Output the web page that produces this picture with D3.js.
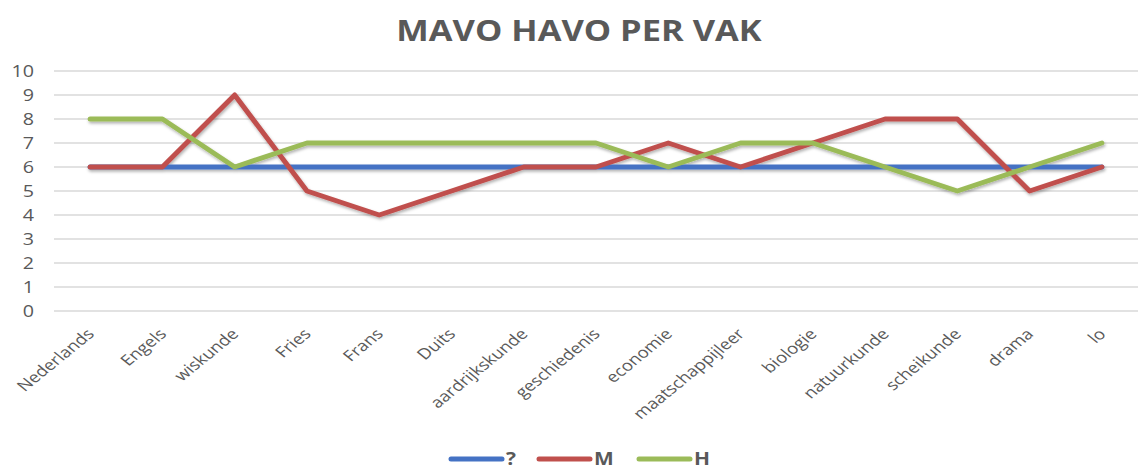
<!DOCTYPE html>
<html>
<head>
<meta charset="utf-8">
<script src="https://cdn.jsdelivr.net/npm/d3@7"></script>
<style>
  body { margin: 0; background: #fff; }
  text { font-family: "Open Sans", sans-serif; fill: #595959; }
</style>
</head>
<body>
<div id="chart"></div>
<script>
// Data
const vakken = ["Nederlands", "Engels", "wiskunde", "Fries", "Frans", "Duits",
  "aardrijkskunde", "geschiedenis", "economie", "maatschappijleer", "biologie",
  "natuurkunde", "scheikunde", "drama", "lo"];
const vraag = [6, 6, 6, 6, 6, 6, 6, 6, 6, 6, 6, 6, 6, 6, 6];
const mavo = [6, 6, 9, 5, 4, 5, 6, 6, 7, 6, 7, 8, 8, 5, 6];
const havo = [8, 8, 6, 7, 7, 7, 7, 7, 6, 7, 7, 6, 5, 6, 7];
const yTicks = [0, 1, 2, 3, 4, 5, 6, 7, 8, 9, 10];
const seriesNames = ["?", "M", "H"];
const seriesColors = ["#4472C4", "#C0504D", "#9BBB59"];

const series = [vraag, mavo, havo].map((values, i) => ({
  name: seriesNames[i],
  color: seriesColors[i],
  values: values,
}));

// Dimensions
const dimensions = { width: 1138, height: 471, left: 54, right: 0, top: 71, plotBottom: 311 };
// the original picture is stretched sideways, so text gets the same stretch
const stretch = 1.23;

const svg = d3.select("#chart")
  .append("svg")
  .attr("width", dimensions.width)
  .attr("height", dimensions.height);

// shadow under the lines
const defs = svg.append("defs");
const shadow = defs.append("filter").attr("id", "shadow")
  .attr("x", "-5%").attr("y", "-20%").attr("width", "110%").attr("height", "140%");
shadow.append("feDropShadow")
  .attr("dx", 1).attr("dy", 2).attr("stdDeviation", 1.5)
  .attr("flood-color", "#000").attr("flood-opacity", 0.3);

// Scales
const xScale = d3.scaleBand()
  .domain(vakken)
  .range([dimensions.left, dimensions.width - dimensions.right])
  .padding(0);

const yScale = d3.scaleLinear()
  .domain([0, 10])
  .range([dimensions.plotBottom, dimensions.top]);

const xPos = (d) => xScale(d) + xScale.bandwidth() / 2;

// Title
svg.append("text")
  .attr("transform", `translate(579,41) scale(${stretch},1)`)
  .attr("text-anchor", "middle")
  .style("font-size", "28px")
  .style("font-weight", "bold")
  .text("MAVO HAVO PER VAK");

// Gridlines
svg.append("g")
  .selectAll("line")
  .data(yTicks)
  .join("line")
  .attr("x1", dimensions.left)
  .attr("x2", dimensions.width)
  .attr("y1", (d) => yScale(d))
  .attr("y2", (d) => yScale(d))
  .attr("stroke", "#d9d9d9")
  .attr("stroke-width", 1.5);

// y tick labels
svg.append("g")
  .selectAll("text")
  .data(yTicks)
  .join("text")
  .attr("transform", (d) => `translate(34,${yScale(d) + 5.5}) scale(${stretch},1)`)
  .attr("text-anchor", "end")
  .style("font-size", "16px")
  .text((d) => d);

// x labels
svg.append("g")
  .selectAll("text")
  .data(vakken)
  .join("text")
  .attr("transform", (d) =>
    `translate(${xPos(d) + 5},${dimensions.plotBottom + 24}) scale(${stretch},1) rotate(-45)`)
  .attr("text-anchor", "end")
  .style("font-size", "15px")
  .text((d) => d);

// Lines
const line = d3.line()
  .x((d, i) => xPos(vakken[i]))
  .y((d) => yScale(d));

svg.append("g")
  .attr("filter", "url(#shadow)")
  .selectAll("path")
  .data(series)
  .join("path")
  .attr("d", (d) => line(d.values))
  .attr("fill", "none")
  .attr("stroke", (d) => d.color)
  .attr("stroke-width", 5)
  .attr("stroke-linejoin", "round")
  .attr("stroke-linecap", "round");

// Legend
const legendX = [451, 539, 639];
const legend = svg.append("g").attr("transform", "translate(0,459)");
const items = legend.selectAll("g")
  .data(series)
  .join("g")
  .attr("transform", (d, i) => `translate(${legendX[i]},0)`);
items.append("line")
  .attr("x1", 0).attr("x2", 51)
  .attr("stroke", (d) => d.color)
  .attr("stroke-width", 5)
  .attr("stroke-linecap", "round");
items.append("text")
  .attr("transform", `translate(55,6) scale(${stretch},1)`)
  .style("font-size", "17px")
  .style("font-weight", "bold")
  .text((d) => d.name);
</script>
</body>
</html>
